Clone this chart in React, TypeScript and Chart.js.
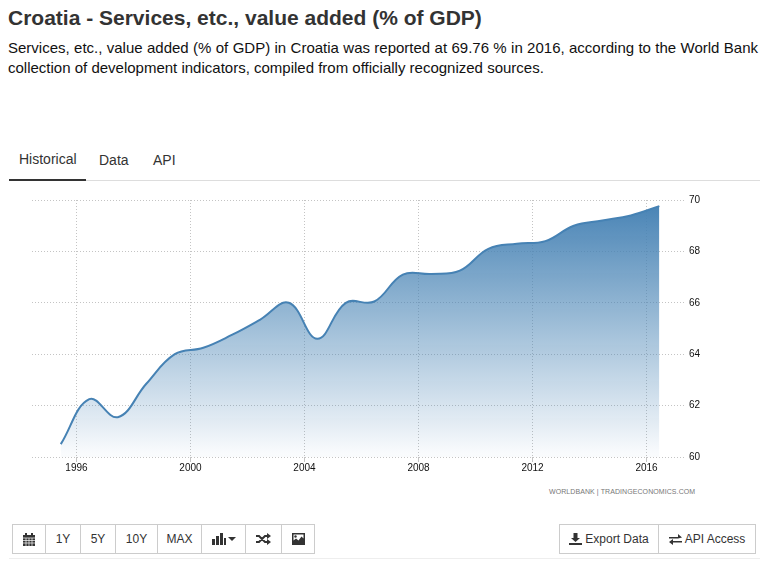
import React, { useEffect, useRef } from "react";
import { Chart, registerables } from "chart.js";

Chart.register(...registerables);

const years = [1995.45,1996.45,1997.45,1998.45,1999.45,2000.45,2001.45,2002.45,2003.45,2004.45,2005.45,2006.45,2007.45,2008.45,2009.45,2010.45,2011.45,2012.45,2013.45,2014.45,2015.45,2016.45];
const values = [60.5,62.25,61.55,62.85,64.0,64.25,64.75,65.35,66.0,64.6,66.0,66.05,67.1,67.12,67.25,68.1,68.3,68.4,69.0,69.2,69.4,69.76];
const xTicks = [1996,2000,2004,2008,2012,2016];
const yTicks = [60,62,64,66,68,70];
const rangeButtons = ["1Y","5Y","10Y","MAX"];
const tabs = ["Historical","Data","API"];

const FONT = '"Liberation Sans", Arial, sans-serif';
const CL = 32, CT = 190, CW = 700, CH = 284;

const abs = (left: number, top: number, extra: React.CSSProperties = {}): React.CSSProperties => ({ position: "absolute", left, top, ...extra });

const btn = (left: number, width: number, top = 524): React.CSSProperties => ({
  position: "absolute", left, top, width, height: 30, boxSizing: "border-box", border: "1px solid #ccc",
  display: "flex", alignItems: "center", justifyContent: "center", fontSize: 12, color: "#333", background: "#fff",
});

export default function App() {
  const ref = useRef<HTMLCanvasElement>(null);
  useEffect(() => {
    const ctx = ref.current!.getContext("2d")!;
    const grad = ctx.createLinearGradient(0, 200 - CT, 0, 454 - CT);
    grad.addColorStop(0, "rgba(70,130,180,1)");
    grad.addColorStop(1, "rgba(70,130,180,0.03)");
    const chart = new Chart(ref.current!, {
      type: "line",
      data: {
        datasets: [{
          data: years.map((y, i) => ({ x: y, y: values[i] })),
          borderColor: "#4682b4", borderWidth: 2, backgroundColor: grad, fill: "start",
          tension: 0.4, pointRadius: 0,
        }],
      },
      options: {
        animation: false, responsive: false, maintainAspectRatio: false,
        layout: { padding: 0 },
        plugins: { legend: { display: false }, tooltip: { enabled: false } },
        scales: {
          x: {
            type: "linear", min: 1994.44, max: 2017.35,
            afterBuildTicks: (a: any) => { a.ticks = xTicks.map((v) => ({ value: v })); },
            grid: { color: "#c4c4c4", tickLength: 5, drawTicks: true, lineWidth: 1, tickColor: "#c4c4c4" },
            border: { display: false, dash: [1, 2] },
            ticks: { color: "#111", font: { family: FONT, size: 10 }, padding: 0, maxRotation: 0, autoSkip: false, callback: (v: any) => String(v) },
          },
          y: {
            position: "right", min: 60, max: 70,
            afterBuildTicks: (a: any) => { a.ticks = yTicks.map((v) => ({ value: v })); },
            grid: { color: "#c4c4c4", drawTicks: false },
            border: { display: false, dash: [1, 2] },
            ticks: { color: "#111", font: { family: FONT, size: 10 }, padding: 4, callback: (v: any) => String(v) },
            afterFit: (a: any) => { a.width = 700 - 653; },
          },
        },
      },
      plugins: [],
    } as any);
    return () => chart.destroy();
  }, []);

  return (
    <div style={{ position: "absolute", left: 0, top: 0, width: 776, height: 574, fontFamily: FONT, color: "#333", background: "#fff", overflow: "hidden" }}>
      <div style={abs(8, 5, { fontSize: 21, fontWeight: 700, lineHeight: "26px", whiteSpace: "nowrap" })}>Croatia - Services, etc., value added (% of GDP)</div>
      <div style={abs(8, 38, { width: 750, fontSize: 15, lineHeight: "20px", color: "#111", textAlign: "justify" })}>
        Services, etc., value added (% of GDP) in Croatia was reported at 69.76 % in 2016, according to the World Bank collection of development indicators, compiled from officially recognized sources.
      </div>

      <div style={abs(9, 180, { width: 751, height: 1, background: "#ddd" })} />
      <div style={abs(9, 179, { width: 77, height: 2, background: "#333" })} />
      <div style={abs(19, 151, { fontSize: 14, lineHeight: "16px" })}>{tabs[0]}</div>
      <div style={abs(99, 152, { fontSize: 14, lineHeight: "16px" })}>{tabs[1]}</div>
      <div style={abs(153, 152, { fontSize: 14, lineHeight: "16px" })}>{tabs[2]}</div>

      <canvas ref={ref} width={CW} height={CH} style={abs(CL, CT, { width: CW, height: CH })} />

      <div style={abs(549, 488, { fontSize: 7, letterSpacing: 0.08, color: "#777", whiteSpace: "nowrap" })}>WORLDBANK | TRADINGECONOMICS.COM</div>

      <div style={btn(12, 34)}>
        <svg width="12" height="13" viewBox="0 0 12 13"><path fill="#333" d="M0 2h2V0h2v2h4V0h2v2h2v11H0z" /><path stroke="#fff" strokeWidth="0.7" d="M0 5h12M0 7.5h12M0 10h12M3 5v8M6 5v8M9 5v8" /></svg>
      </div>
      <div style={btn(45, 36)}>{rangeButtons[0]}</div>
      <div style={btn(80, 36)}>{rangeButtons[1]}</div>
      <div style={btn(115, 43)}>{rangeButtons[2]}</div>
      <div style={btn(157, 45)}>{rangeButtons[3]}</div>
      <div style={btn(201, 45)}>
        <svg width="24" height="12" viewBox="0 0 24 12"><path fill="#333" d="M0 6h3v6H0zM4 3h3v9H4zM8 0h3v12H8zM12 5h2v7h-2zM16 4h8l-4 4z" /></svg>
      </div>
      <div style={btn(245, 37)}>
        <svg width="15" height="12" viewBox="0 0 15 12"><path fill="none" stroke="#333" strokeWidth="2" d="M0 3h3l6 6h3M0 9h3l6-6h3" /><path fill="#333" d="M11 0l4 3-4 3zM11 6l4 3-4 3z" /></svg>
      </div>
      <div style={btn(281, 34)}>
        <svg width="13" height="12" viewBox="0 0 13 12"><path fill="#333" fillRule="evenodd" d="M0 0h13v12H0zM1.5 1.5v6l2.5-2 2.5 2 3-4 2 2v-4z" /><circle cx="3.5" cy="3.5" r="1.2" fill="#333" /></svg>
      </div>

      <div style={btn(559, 100)}>
        <svg width="13" height="12" viewBox="0 0 13 12" style={{ marginRight: 3 }}><path fill="#333" d="M4.5 0h4v5H11L6.5 9 2 5h2.5zM0 10h13v2H0z" /></svg>
        Export Data
      </div>
      <div style={btn(658, 98)}>
        <svg width="13" height="11" viewBox="0 0 13 11" style={{ marginRight: 3 }}><path fill="#333" d="M0 3h9V0l4 3.5L9 4.5H0zM13 7H4V5L0 8l4 3V8.5h9z" /></svg>
        API Access
      </div>
      <div style={abs(9, 558, { width: 751, height: 1, background: "#eee" })} />
    </div>
  );
}
